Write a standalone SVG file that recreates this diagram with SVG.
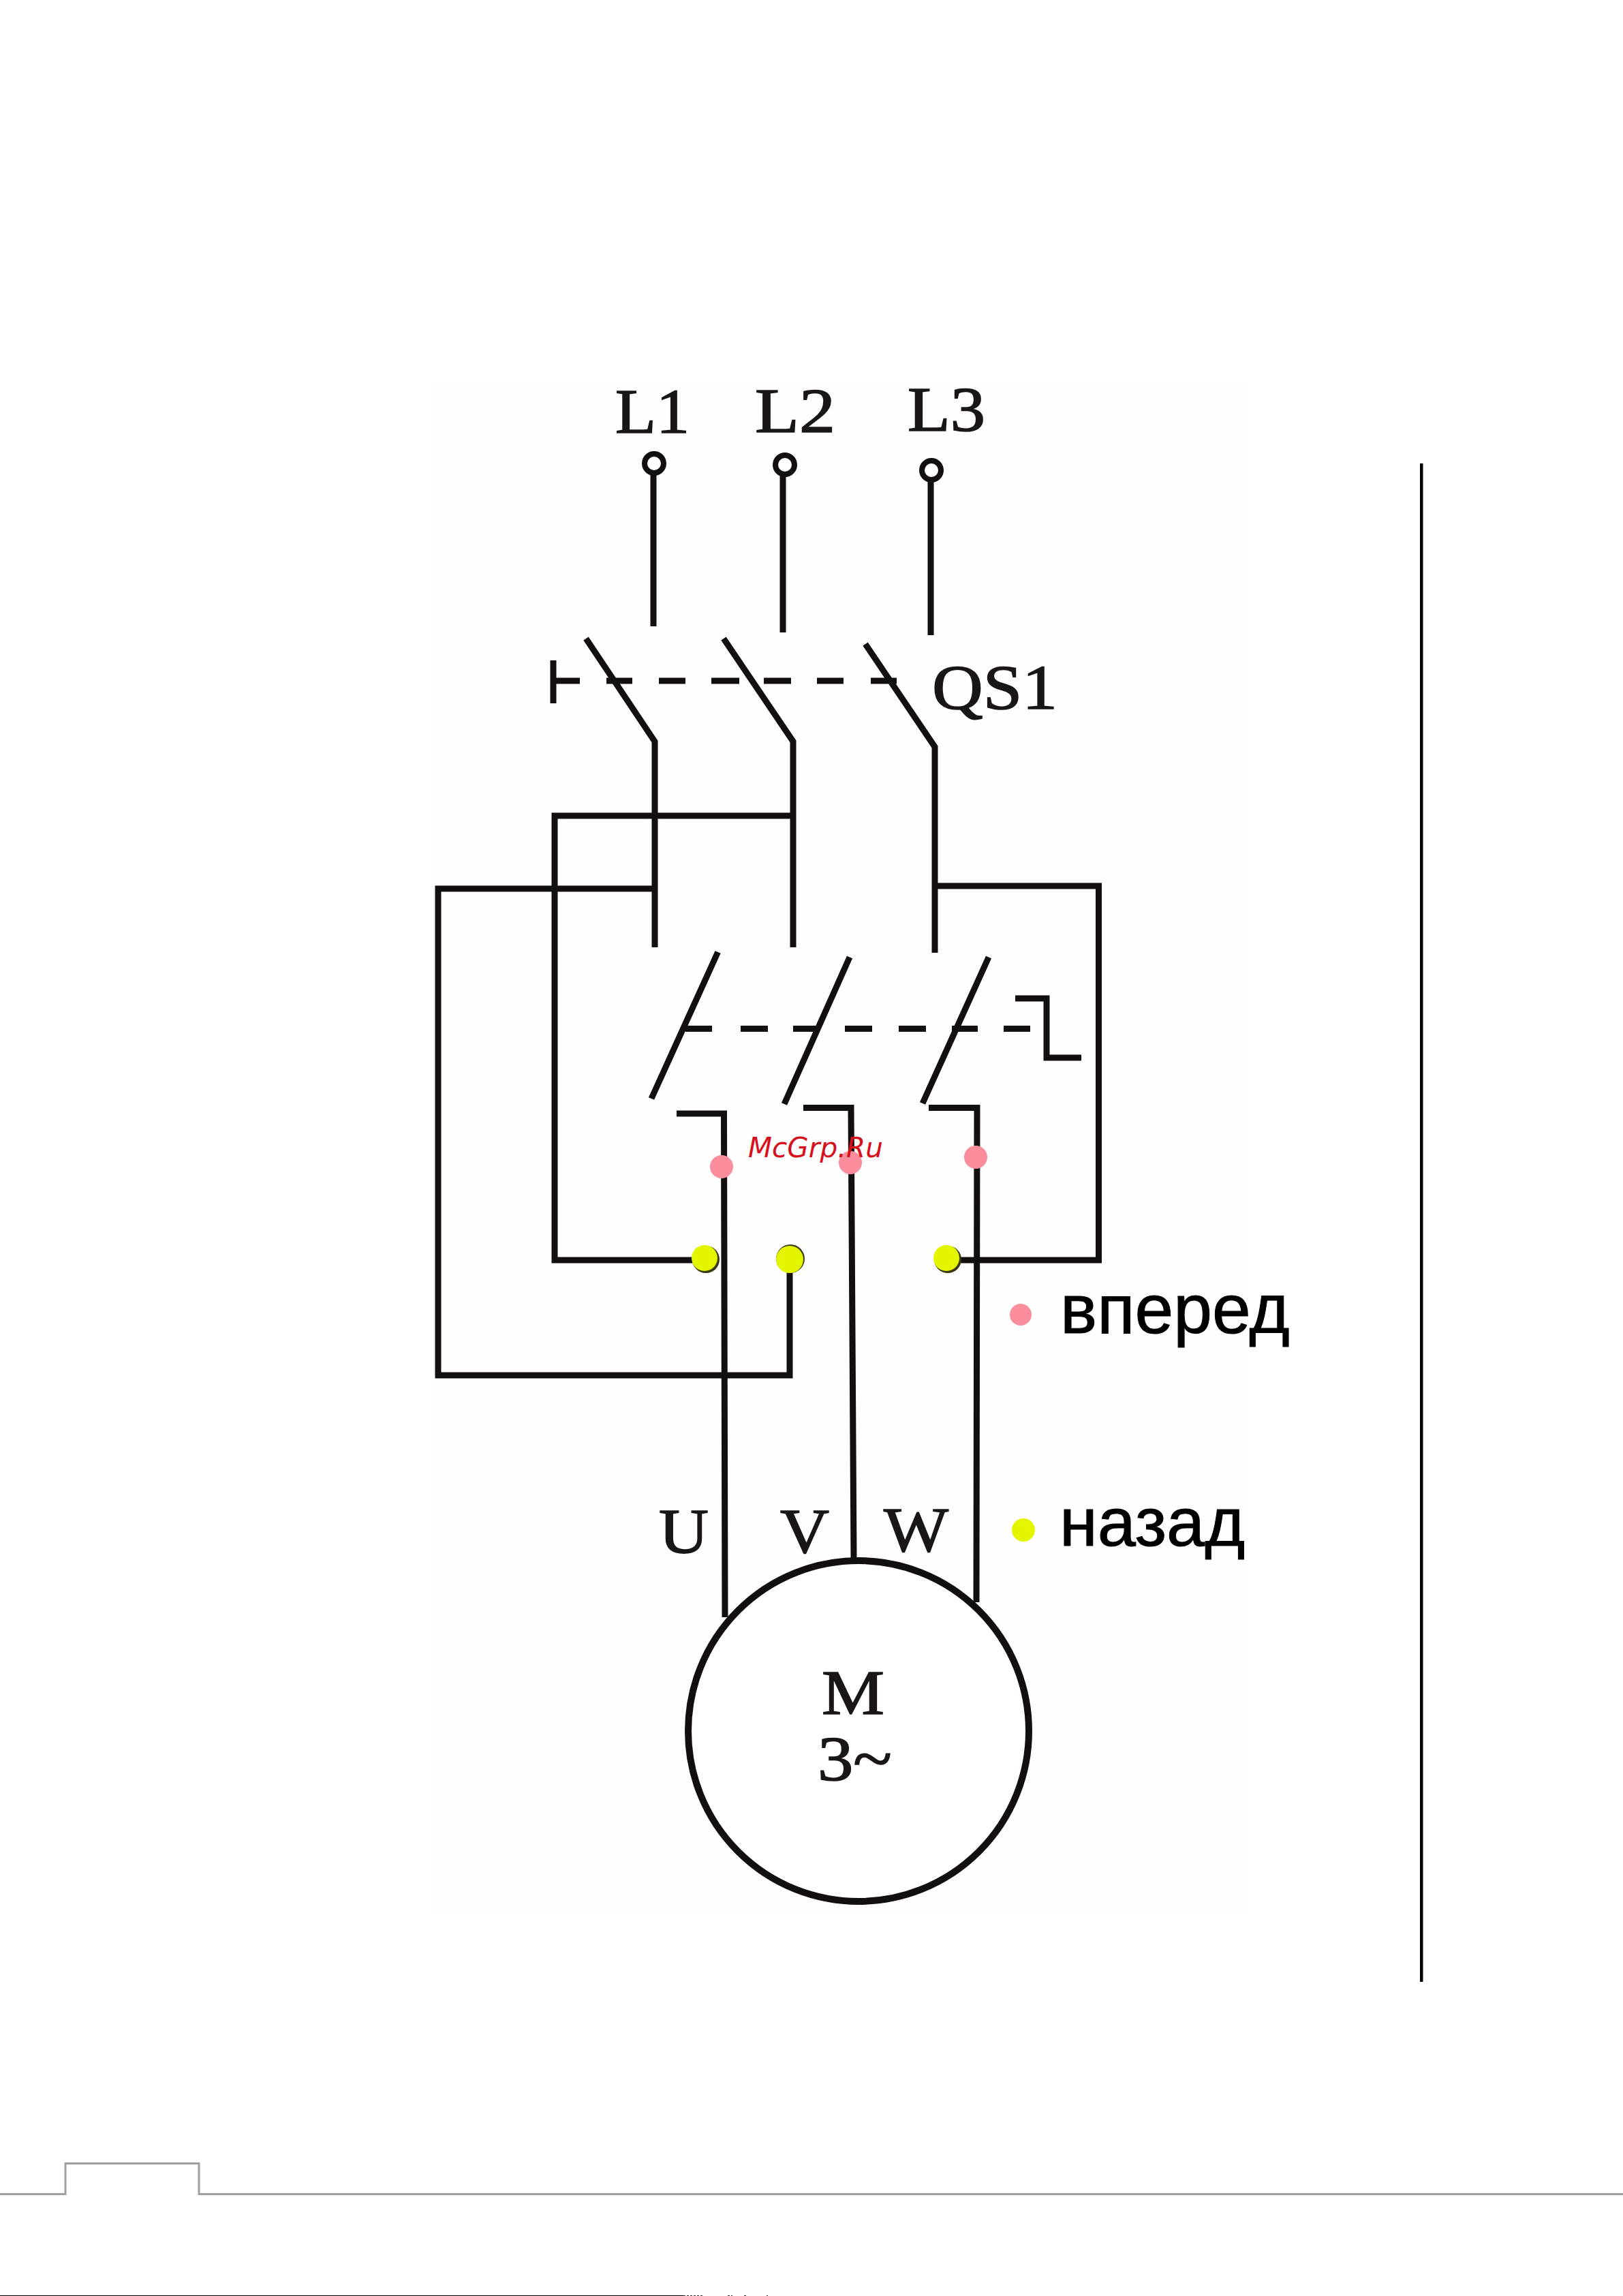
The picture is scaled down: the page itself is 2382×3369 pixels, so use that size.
<svg xmlns="http://www.w3.org/2000/svg" width="2382" height="3369" viewBox="0 0 2382 3369">
<style>
.w{fill:none;stroke:#140f0f;stroke-width:9;stroke-linecap:butt;stroke-linejoin:miter}
.d{fill:none;stroke:#140f0f;stroke-width:8}
.s{font-family:"Liberation Serif","Times New Roman",serif;font-size:94px;fill:#1a1616;stroke:#1a1616;stroke-width:1.6}
.a{font-family:"Liberation Sans",Arial,sans-serif;font-size:101px;fill:#000;stroke:#000;stroke-width:1}
.r{fill:#fb8d9d}
.y{fill:#e4f500}
.f{fill:none;stroke:#a0a0a0;stroke-width:3}
</style>
<rect width="2382" height="3369" fill="#fff"/>
<rect x="630" y="560" width="1200" height="2250" fill="#fefefe"/>
<g id="connectors">
<path class="w" d="M959 695V919M1149 697V928M1366 705V932"/>
<path class="w" d="M860 937L961 1088V1390M1062 937L1164 1088V1390M1270 945L1372 1096V1398"/>
<path class="w" d="M812 969V1032M812 999H851"/>
<path class="w" d="M890 999H928M967 999H1006M1044 999H1085M1121 999H1161M1199 999H1238M1278 999H1316"/>
<path class="w" d="M1164 1197H814V1849H1035"/>
<path class="w" d="M961 1304H643V2018H1159V1847"/>
<path class="w" d="M1372 1300H1612.5V1849H1390"/>
<path class="w" d="M1053.6 1397L956 1612M1247 1404.5L1151 1620M1451 1404.5L1354 1619"/>
<path class="w" d="M1006 1509.5H1045M1087 1509.5H1127M1164 1509.5H1200M1240 1509.5H1280M1319 1509.5H1359M1397 1509.5H1435M1473 1509.5H1512"/>
<path class="w" d="M1490 1465H1536V1552H1587"/>
<path class="w" d="M993 1634H1062.5L1064 2373"/>
<path class="w" d="M1179 1625.5H1249L1253 2286"/>
<path class="w" d="M1363 1625.5H1434L1433 2351"/>
</g>
<g id="terminal-L1"><circle class="d" cx="960" cy="680" r="14"/><text class="s" x="903" y="635" textLength="109" lengthAdjust="spacingAndGlyphs">L1</text></g>
<g id="terminal-L2"><circle class="d" cx="1152" cy="682" r="14"/><text class="s" x="1108" y="634" textLength="118" lengthAdjust="spacingAndGlyphs">L2</text></g>
<g id="terminal-L3"><circle class="d" cx="1367" cy="690" r="14"/><text class="s" x="1332" y="632" textLength="114" lengthAdjust="spacingAndGlyphs">L3</text></g>
<g id="label-QS1"><text class="s" x="1368" y="1040" textLength="184" lengthAdjust="spacingAndGlyphs">QS1</text></g>
<g id="motor"><circle cx="1260" cy="2540" r="250" fill="#fff" stroke="#140f0f" stroke-width="10"/><text class="s" x="1206" y="2515" textLength="92" lengthAdjust="spacingAndGlyphs">M</text><text class="s" x="1200" y="2612" textLength="109" lengthAdjust="spacingAndGlyphs">3~</text></g>
<g id="label-U"><text class="s" x="967" y="2278" textLength="73" lengthAdjust="spacingAndGlyphs">U</text></g>
<g id="label-V"><text class="s" x="1145" y="2278" textLength="72" lengthAdjust="spacingAndGlyphs">V</text></g>
<g id="label-W"><text class="s" x="1297" y="2276" textLength="95" lengthAdjust="spacingAndGlyphs">W</text></g>
<g id="forward-dots"><circle class="r" cx="1059" cy="1712" r="17"/><circle class="r" cx="1248" cy="1706" r="17"/><circle class="r" cx="1432" cy="1698" r="17"/></g>
<g id="reverse-dots"><circle cx="1036" cy="1848" r="20" fill="#3a3a10"/><circle class="y" cx="1034" cy="1846" r="19"/><circle cx="1160" cy="1847" r="21" fill="#3a3a10"/><circle class="y" cx="1159" cy="1848" r="20"/><circle cx="1391" cy="1848" r="20" fill="#3a3a10"/><circle class="y" cx="1389" cy="1846" r="19"/></g>
<g id="legend-forward"><circle class="r" cx="1498" cy="1929" r="16"/><text class="a" x="1556" y="1956" style="font-size:102px">вперед</text></g>
<g id="legend-reverse"><circle class="y" cx="1502" cy="2245" r="17"/><text class="a" x="1555" y="2268">назад</text></g>
<g id="watermark"><text x="1098" y="1698" font-family="'DejaVu Sans',sans-serif" font-style="italic" font-size="40" fill="#d6101c" textLength="198" lengthAdjust="spacingAndGlyphs">McGrp.Ru</text></g>
<g id="page-frame">
<rect x="2084" y="680" width="4.5" height="2228" fill="#000"/>
<path class="f" d="M0 3219.5H96V3174.5H292V3219.5H2382"/>
<rect x="0" y="3368" width="1003" height="1" fill="#000"/>
<path d="M1003 3368.5H1032M1068 3368.5H1075M1092 3368.5H1096M1125 3368.5H1127" stroke="#333" stroke-width="1" stroke-dasharray="3 2" fill="none"/>
</g>
</svg>
